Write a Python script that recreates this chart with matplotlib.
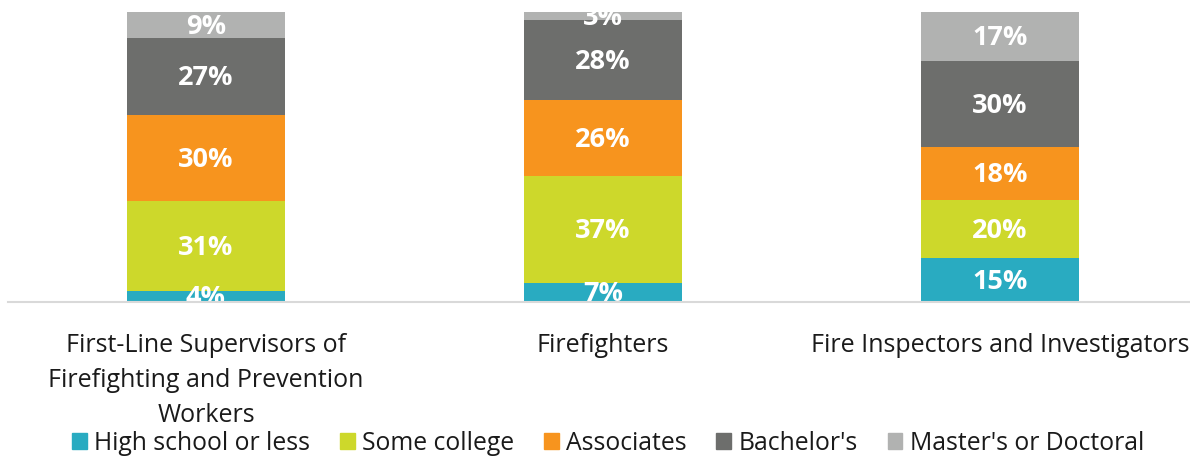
import matplotlib.pyplot as plt
from matplotlib.patches import Patch
import numpy as np

plt.rcParams['font.family'] = ['Open Sans', 'DejaVu Sans']

categories = ['First-Line Supervisors of\nFirefighting and Prevention\nWorkers',
              'Firefighters',
              'Fire Inspectors and Investigators']
levels = ['High school or less', 'Some college', 'Associates', "Bachelor's", "Master's or Doctoral"]

# share of workers (%) per education level
high_school = [3.8, 6.6, 15.2]
some_college = [31.0, 36.8, 20.0]
associates = [29.7, 26.2, 18.3]
bachelors = [26.6, 27.6, 29.7]
masters = [8.9, 2.8, 16.9]

series = [high_school, some_college, associates, bachelors, masters]
colors = ['#29abc1', '#cdd82b', '#f7941e', '#6d6e6c', '#b1b2b1']

fig = plt.figure(figsize=(11.9, 4.57), dpi=100)
ax = fig.add_axes([7.5 / 1190, 1 - 302 / 457, 1191 / 1190, 290 / 457])

x = np.arange(len(categories))
bottom = np.zeros(len(categories))
for vals, col in zip(series, colors):
    vals = np.array(vals)
    ax.bar(x, vals, 0.4, bottom=bottom, color=col, zorder=2)
    for xi, b, v in zip(x, bottom, vals):
        ax.text(xi, b + v / 2 - 0.6, f'{round(v)}%', ha='center', va='center',
                color='white', fontsize=19.5, fontweight='bold', clip_on=True, zorder=3)
    bottom += vals

ax.set_xlim(-0.5, 2.5)
ax.set_ylim(0, 100)
ax.set_yticks([])
for s in ['top', 'left', 'right']:
    ax.spines[s].set_visible(False)
ax.spines['bottom'].set_color('#d9d9d9')
ax.spines['bottom'].set_linewidth(1.5)
ax.spines['bottom'].set_zorder(4)
ax.set_xticks(x)
ax.set_xticklabels(categories, fontsize=18, color='#1a1a1a', linespacing=1.55)
ax.tick_params(axis='x', length=0, pad=22)

handles = [Patch(color=c, label=l) for c, l in zip(colors, levels)]
fig.legend(handles=handles, loc='center', bbox_to_anchor=(0.511, 1 - 443 / 457), ncol=5,
           frameon=False, fontsize=17.8, handlelength=0.6, handleheight=0.6,
           handletextpad=0.3, columnspacing=1.2, labelcolor='#1a1a1a')

fig.savefig('out.png', dpi=100)
